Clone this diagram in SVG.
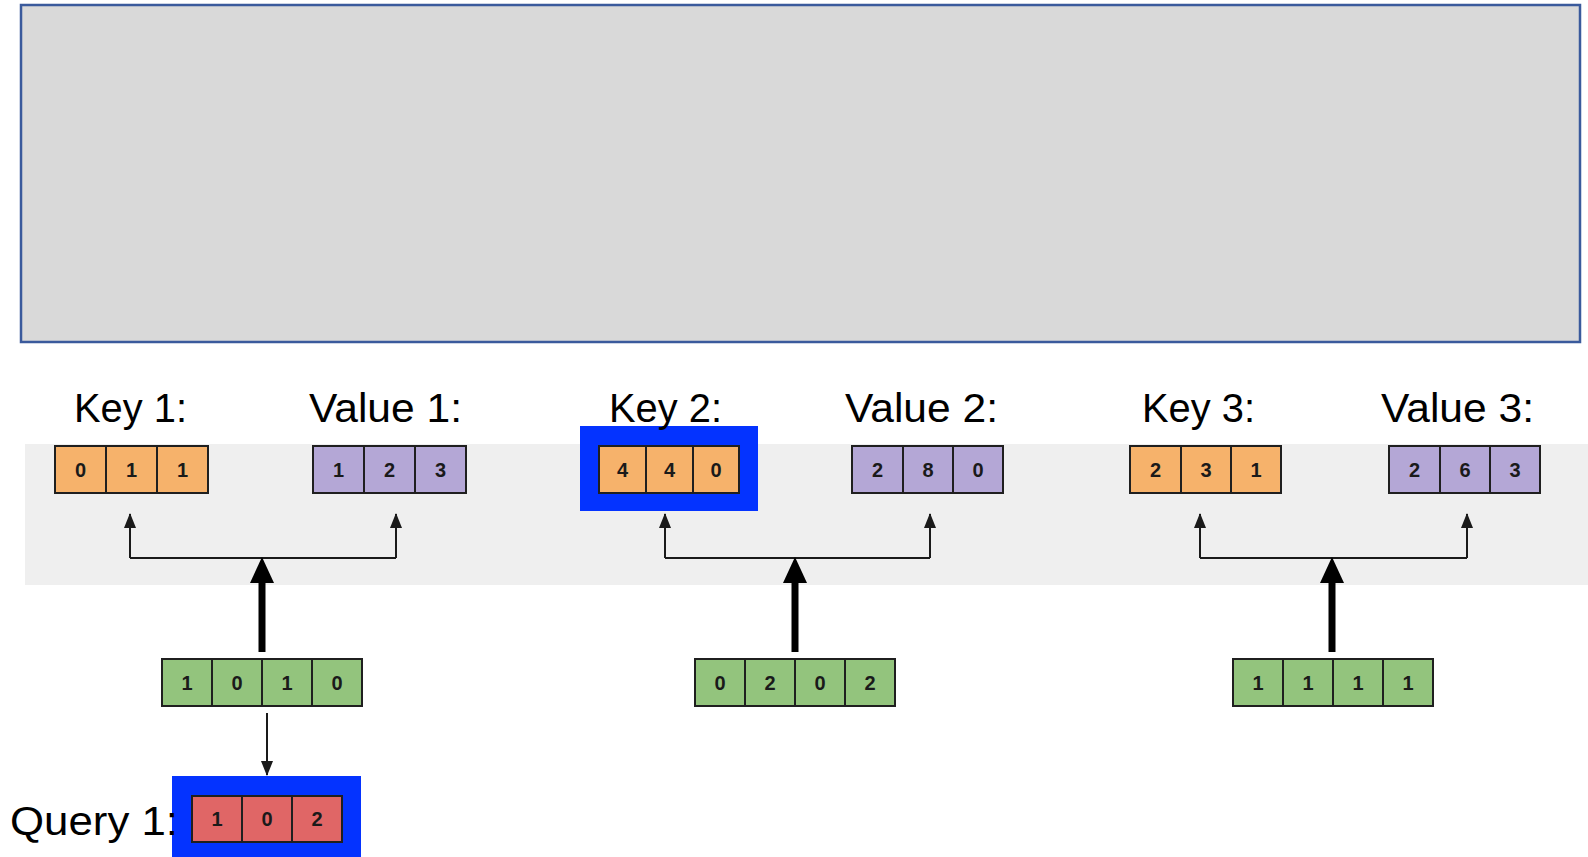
<svg xmlns="http://www.w3.org/2000/svg" width="1588" height="857" viewBox="0 0 1588 857">
  <style>
    .label { font-family: "Liberation Sans", Arial, sans-serif; font-size: 40px; fill: #000; }
    .cell { stroke: #1f1f1f; stroke-width: 2; }
    .digit { font-family: "Liberation Sans", Arial, sans-serif; font-size: 20px; font-weight: bold; fill: #1a1a1a; text-anchor: middle; }
    .key { fill: #f6b26b; }
    .val { fill: #b4a7d6; }
    .emb { fill: #93c47d; }
    .qry { fill: #e06666; }
    .hl { fill: #0433ff; }
    .thin { stroke: #1a1a1a; stroke-width: 2; fill: none; }
    .thick { stroke: #000; stroke-width: 7; fill: none; }
  </style>
  <defs>
    <marker id="headSmall" viewBox="0 0 15 12" refX="14" refY="6" markerWidth="15" markerHeight="12" markerUnits="userSpaceOnUse" orient="auto">
      <path d="M0,0 L15,6 L0,12 Z" fill="#1a1a1a"/>
    </marker>
  </defs>

  <!-- top panel -->
  <rect id="panel" x="21" y="5" width="1559" height="337" fill="#d9d9d9" stroke="#3a5a9c" stroke-width="2.5"/>

  <!-- shaded band behind key/value rows -->
  <rect id="band" x="25" y="444" width="1563" height="141" fill="#efefef"/>

  <!-- highlight frames -->
  <rect id="hl-key2" class="hl" x="580" y="426" width="178" height="85"/>
  <rect id="hl-query1" class="hl" x="172" y="776" width="189" height="81"/>

  <!-- labels -->
  <g id="labels">
    <text class="label" x="74" y="422" textLength="113" lengthAdjust="spacingAndGlyphs">Key 1:</text>
    <text class="label" x="309" y="422" textLength="153" lengthAdjust="spacingAndGlyphs">Value 1:</text>
    <text class="label" x="609" y="422" textLength="113" lengthAdjust="spacingAndGlyphs">Key 2:</text>
    <text class="label" x="845" y="422" textLength="153" lengthAdjust="spacingAndGlyphs">Value 2:</text>
    <text class="label" x="1142" y="422" textLength="113" lengthAdjust="spacingAndGlyphs">Key 3:</text>
    <text class="label" x="1381" y="422" textLength="153" lengthAdjust="spacingAndGlyphs">Value 3:</text>
  </g>

  <g id="key1">
    <rect class="cell key" x="55" y="446" width="51" height="47"/>
    <rect class="cell key" x="106" y="446" width="51" height="47"/>
    <rect class="cell key" x="157" y="446" width="51" height="47"/>
    <text class="digit" x="80.5" y="477">0</text>
    <text class="digit" x="131.5" y="477">1</text>
    <text class="digit" x="182.5" y="477">1</text>
  </g>
  <g id="value1">
    <rect class="cell val" x="313" y="446" width="51" height="47"/>
    <rect class="cell val" x="364" y="446" width="51" height="47"/>
    <rect class="cell val" x="415" y="446" width="51" height="47"/>
    <text class="digit" x="338.5" y="477">1</text>
    <text class="digit" x="389.5" y="477">2</text>
    <text class="digit" x="440.5" y="477">3</text>
  </g>
  <g id="key2">
    <rect class="cell key" x="599" y="446" width="47" height="47"/>
    <rect class="cell key" x="646" y="446" width="47" height="47"/>
    <rect class="cell key" x="693" y="446" width="46" height="47"/>
    <text class="digit" x="622.5" y="477">4</text>
    <text class="digit" x="669.5" y="477">4</text>
    <text class="digit" x="716" y="477">0</text>
  </g>
  <g id="value2">
    <rect class="cell val" x="852" y="446" width="51" height="47"/>
    <rect class="cell val" x="903" y="446" width="50" height="47"/>
    <rect class="cell val" x="953" y="446" width="50" height="47"/>
    <text class="digit" x="877.5" y="477">2</text>
    <text class="digit" x="928" y="477">8</text>
    <text class="digit" x="978" y="477">0</text>
  </g>
  <g id="key3">
    <rect class="cell key" x="1130" y="446" width="51" height="47"/>
    <rect class="cell key" x="1181" y="446" width="50" height="47"/>
    <rect class="cell key" x="1231" y="446" width="50" height="47"/>
    <text class="digit" x="1155.5" y="477">2</text>
    <text class="digit" x="1206" y="477">3</text>
    <text class="digit" x="1256" y="477">1</text>
  </g>
  <g id="value3">
    <rect class="cell val" x="1389" y="446" width="51" height="47"/>
    <rect class="cell val" x="1440" y="446" width="50" height="47"/>
    <rect class="cell val" x="1490" y="446" width="50" height="47"/>
    <text class="digit" x="1414.5" y="477">2</text>
    <text class="digit" x="1465" y="477">6</text>
    <text class="digit" x="1515" y="477">3</text>
  </g>

  <g id="embed1">
    <rect class="cell emb" x="162" y="659" width="50" height="47"/>
    <rect class="cell emb" x="212" y="659" width="50" height="47"/>
    <rect class="cell emb" x="262" y="659" width="50" height="47"/>
    <rect class="cell emb" x="312" y="659" width="50" height="47"/>
    <text class="digit" x="187" y="690">1</text>
    <text class="digit" x="237" y="690">0</text>
    <text class="digit" x="287" y="690">1</text>
    <text class="digit" x="337" y="690">0</text>
  </g>
  <g id="embed2">
    <rect class="cell emb" x="695" y="659" width="50" height="47"/>
    <rect class="cell emb" x="745" y="659" width="50" height="47"/>
    <rect class="cell emb" x="795" y="659" width="50" height="47"/>
    <rect class="cell emb" x="845" y="659" width="50" height="47"/>
    <text class="digit" x="720" y="690">0</text>
    <text class="digit" x="770" y="690">2</text>
    <text class="digit" x="820" y="690">0</text>
    <text class="digit" x="870" y="690">2</text>
  </g>
  <g id="embed3">
    <rect class="cell emb" x="1233" y="659" width="50" height="47"/>
    <rect class="cell emb" x="1283" y="659" width="50" height="47"/>
    <rect class="cell emb" x="1333" y="659" width="50" height="47"/>
    <rect class="cell emb" x="1383" y="659" width="50" height="47"/>
    <text class="digit" x="1258" y="690">1</text>
    <text class="digit" x="1308" y="690">1</text>
    <text class="digit" x="1358" y="690">1</text>
    <text class="digit" x="1408" y="690">1</text>
  </g>

  <g id="query1">
    <rect class="cell qry" x="192" y="796" width="50" height="46"/>
    <rect class="cell qry" x="242" y="796" width="50" height="46"/>
    <rect class="cell qry" x="292" y="796" width="50" height="46"/>
    <text class="digit" x="217" y="826">1</text>
    <text class="digit" x="267" y="826">0</text>
    <text class="digit" x="317" y="826">2</text>
    <text class="label" x="10" y="835" textLength="168" lengthAdjust="spacingAndGlyphs">Query 1:</text>
  </g>

  <g id="connectors">
    <!-- split arrows to key/value -->
    <path class="thin" d="M130,558 H396"/>
    <path class="thin" d="M130,558 V514" marker-end="url(#headSmall)"/>
    <path class="thin" d="M396,558 V514" marker-end="url(#headSmall)"/>
    <path class="thin" d="M665,558 H930"/>
    <path class="thin" d="M665,558 V514" marker-end="url(#headSmall)"/>
    <path class="thin" d="M930,558 V514" marker-end="url(#headSmall)"/>
    <path class="thin" d="M1200,558 H1467"/>
    <path class="thin" d="M1200,558 V514" marker-end="url(#headSmall)"/>
    <path class="thin" d="M1467,558 V514" marker-end="url(#headSmall)"/>

    <!-- thick arrows from embeddings -->
    <path class="thick" d="M262,652 V580"/>
    <path d="M250,583 L262,557 L274,583 Z" fill="#000"/>
    <path class="thick" d="M795,652 V580"/>
    <path d="M783,583 L795,557 L807,583 Z" fill="#000"/>
    <path class="thick" d="M1332,652 V580"/>
    <path d="M1320,583 L1332,557 L1344,583 Z" fill="#000"/>

    <!-- embedding to query -->
    <path class="thin" d="M267,713 V775" marker-end="url(#headSmall)"/>
  </g>
</svg>
